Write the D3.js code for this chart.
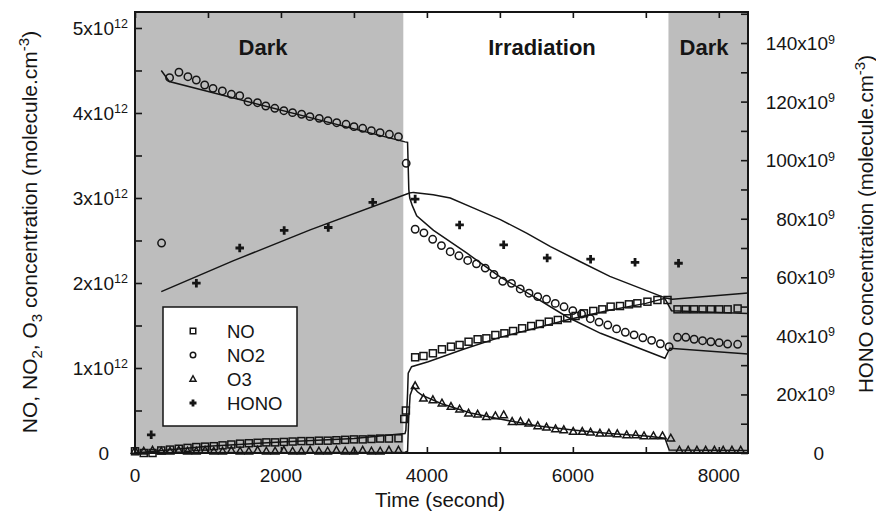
<!DOCTYPE html>
<html><head><meta charset="utf-8">
<script src="https://cdn.jsdelivr.net/npm/d3@7"></script>
<style>
html,body{margin:0;padding:0;background:#fff;}
svg text{font-family:"Liberation Sans",Arial,Helvetica,sans-serif;fill:#151515;}
</style></head>
<body>
<svg id="chart" width="876" height="513"></svg>
<script>
// ---------- data (time in s; NO/NO2/O3 in 1e12 molecule/cm3; HONO in 1e9 molecule/cm3) ----------
const phaseLabels = ["Dark", "Irradiation", "Dark"];
const phaseStarts = [0, 3680, 7310];
const phaseEnds   = [3680, 7310, 8400];
const phaseDark   = [true, false, true];

const xTicks = [0, 2000, 4000, 6000, 8000];
const xMinorTicks = [1000, 3000, 5000, 7000];
const leftTicks = [0, 1, 2, 3, 4, 5];
const leftMinorTicks = [0.5, 1.5, 2.5, 3.5, 4.5];
const rightTicks = [0, 20, 40, 60, 80, 100, 120, 140];
const rightMinorTicks = [10, 30, 50, 70, 90, 110, 130, 150];
const legendNames = ["NO", "NO2", "O3", "HONO"];

const noPoints = [
 [0,0.02],[120,0.0],[240,0.0],[360,0.03],[480,0.04],[600,0.05],[720,0.06],[840,0.07],[960,0.075],
 [1080,0.08],[1200,0.09],[1320,0.10],[1440,0.11],[1560,0.115],[1680,0.12],[1800,0.125],[1920,0.125],
 [2040,0.13],[2160,0.135],[2280,0.14],[2400,0.14],[2520,0.145],[2640,0.145],[2760,0.15],[2880,0.155],
 [3000,0.16],[3120,0.16],[3240,0.165],[3360,0.17],[3480,0.17],[3610,0.173],[3690,0.40],[3712,0.50],
 [3839,1.126],[3953,1.141],[4082,1.173],[4206,1.22],[4330,1.251],[4448,1.271],[4571,1.309],[4695,1.338],
 [4815,1.349],[4938,1.388],[5062,1.408],[5181,1.435],[5305,1.467],[5429,1.494],[5547,1.518],[5670,1.545],
 [5794,1.565],[5923,1.585],[6037,1.612],[6151,1.643],[6280,1.671],[6404,1.69],[6518,1.722],[6646,1.729],
 [6769,1.749],[6884,1.761],[7022,1.78],[7159,1.80],[7297,1.80],
 [7434,1.69],[7548,1.69],[7662,1.69],[7777,1.69],[7891,1.69],[8005,1.69],[8121,1.69],[8258,1.70]
];
const no2Points = [
 [364,2.47],[474,4.415],[602,4.479],[725,4.427],[840,4.388],[955,4.329],[1069,4.29],[1197,4.259],
 [1321,4.22],[1435,4.204],[1549,4.133],[1678,4.121],[1792,4.082],[1916,4.055],[2040,4.027],[2159,4.004],
 [2283,3.985],[2397,3.957],[2525,3.937],[2644,3.91],[2764,3.886],[2892,3.867],[3001,3.839],[3120,3.82],
 [3239,3.792],[3358,3.768],[3486,3.749],[3610,3.721],[3716,3.408],
 [3839,2.632],[3959,2.59],[4079,2.514],[4199,2.44],[4319,2.368],[4439,2.32],[4559,2.265],[4679,2.225],
 [4799,2.175],[4919,2.10],[5039,2.02],[5159,1.996],[5279,1.93],[5399,1.88],[5519,1.84],[5639,1.808],
 [5759,1.76],[5879,1.72],[5999,1.675],[6119,1.635],[6239,1.58],[6359,1.54],[6479,1.505],[6599,1.46],
 [6719,1.42],[6839,1.39],[6959,1.355],[7079,1.325],[7199,1.285],[7319,1.25],
 [7434,1.361],[7548,1.361],[7662,1.338],[7777,1.321],[7891,1.309],[8005,1.298],[8121,1.282],[8258,1.279]
];
const o3Points = [
 [0,0.03],[120,0.02],[240,0.03],[360,0.02],[480,0.02],[600,0.03],[720,0.02],[840,0.02],[960,0.03],
 [1080,0.02],[1200,0.02],[1320,0.03],[1440,0.02],[1560,0.02],[1680,0.03],[1800,0.02],[1920,0.02],
 [2040,0.03],[2160,0.02],[2280,0.02],[2400,0.03],[2520,0.02],[2640,0.02],[2760,0.03],[2880,0.02],
 [3000,0.02],[3120,0.03],[3240,0.02],[3360,0.02],[3480,0.03],[3610,0.03],
 [3839,0.79],[3953,0.643],[4082,0.624],[4206,0.585],[4330,0.545],[4448,0.514],[4571,0.467],[4695,0.455],
 [4815,0.427],[4938,0.435],[5052,0.447],[5168,0.368],[5282,0.368],[5396,0.349],[5519,0.318],[5639,0.302],
 [5762,0.282],[5876,0.271],[6005,0.251],[6129,0.251],[6243,0.243],[6371,0.231],[6494,0.231],[6609,0.224],
 [6737,0.212],[6861,0.212],[6975,0.20],[7104,0.20],[7228,0.20],[7342,0.173],
 [7460,0.03],[7580,0.03],[7700,0.03],[7820,0.03],[7940,0.03],[8060,0.03],[8180,0.03],[8300,0.03]
];
const honoPoints = [
 [222,6.2],[841,58.0],[1435,70.0],[2044,76.0],[2648,77.0],[3258,85.6],[3839,86.7],
 [4448,77.9],[5052,71.1],[5648,66.6],[6243,66.2],[6852,65.1],[7448,64.8]
];

const noModel = [
 [0,0.0],[1000,0.08],[2000,0.13],[3000,0.17],[3700,0.23],[3712,0.27],[3735,0.70],[3744,0.94],
 [3790,1.015],[4018,1.074],[4500,1.22],[5000,1.36],[5500,1.47],[5913,1.565],[6500,1.68],[7000,1.76],
 [7260,1.82],[7352,1.674],[8400,1.64]
];
const no2Model = [
 [360,4.50],[470,4.37],[3700,3.66],[3735,3.655],[3752,3.10],[3765,3.00],[3800,2.91],[3860,2.79],
 [4091,2.62],[4549,2.35],[5007,2.07],[5464,1.84],[5923,1.60],[6380,1.408],[7262,1.114],[7329,1.232],
 [8400,1.165]
];
const o3Model = [
 [0,0.0],[3700,0.01],[3735,0.02],[3750,0.40],[3770,0.68],[3812,0.78],[3870,0.72],[3931,0.68],
 [4200,0.58],[4600,0.47],[5000,0.40],[5500,0.32],[6000,0.27],[6500,0.23],[7000,0.20],[7262,0.173],
 [7320,0.035],[8400,0.03]
];
const honoModel = [
 [360,55.1],[1343,65.6],[2400,76.2],[3761,88.8],[3816,89.0],[4086,88.2],[4320,87.1],[4634,83.7],[5007,79.7],
 [5366,75.1],[5694,70.5],[6096,65.4],[6507,60.3],[7273,52.9],[7365,52.5],[8400,54.6]
];

// ---------- layout ----------
const svg = d3.select("#chart");
const L = 135, R = 748, T = 12, B = 453;
const x = d3.scaleLinear().domain([0, 8400]).range([L, R]);
const yL = d3.scaleLinear().domain([0, 5.188]).range([B, T]);
const yR = d3.scaleLinear().domain([0, 150.6]).range([B, T]);
const ink = "#151515";

svg.append("defs").append("clipPath").attr("id","clip")
  .append("rect").attr("x",L).attr("y",T).attr("width",R-L).attr("height",B-T);

// phases
svg.append("g").selectAll("rect").data(phaseStarts.map((s,i)=>({s, e:phaseEnds[i], dark:phaseDark[i]})))
  .join("rect")
  .attr("x", d=>x(d.s)).attr("y",T).attr("width", d=>x(d.e)-x(d.s)).attr("height",B-T)
  .attr("fill", d=>d.dark ? "#bdbdbd" : "#ffffff");

svg.append("g").selectAll("text").data(phaseLabels).join("text")
  .attr("x",(d,i)=> i===0 ? 263 : (i===1 ? 542 : 704))
  .attr("y",55).attr("text-anchor","middle")
  .style("font-weight","bold").style("font-size","22px").text(d=>d);

// model lines
const plot = svg.append("g").attr("clip-path","url(#clip)");
const lineL = d3.line().x(d=>x(d[0])).y(d=>yL(d[1]));
const lineR = d3.line().x(d=>x(d[0])).y(d=>yR(d[1]));
[noModel, no2Model, o3Model].forEach(m=>{
  plot.append("path").datum(m).attr("d", lineL).attr("fill","none").attr("stroke",ink).attr("stroke-width",1.5);
});
plot.append("path").datum(honoModel).attr("d", lineR).attr("fill","none").attr("stroke",ink).attr("stroke-width",1.5);

// symbols
function sym(g, type, cx, cy, s){
  if(type==="NO") g.append("rect").attr("x",cx-s/2).attr("y",cy-s/2).attr("width",s).attr("height",s)
      .attr("fill","none").attr("stroke",ink).attr("stroke-width",1.5);
  else if(type==="NO2") g.append("circle").attr("cx",cx).attr("cy",cy).attr("r",s/2)
      .attr("fill","none").attr("stroke",ink).attr("stroke-width",1.5);
  else if(type==="O3") { const h=s*0.9; g.append("path")
      .attr("d",`M${cx},${cy-h*0.6}L${cx+s/2},${cy+h*0.4}L${cx-s/2},${cy+h*0.4}Z`)
      .attr("fill","none").attr("stroke",ink).attr("stroke-width",1.5); }
  else { g.append("path").attr("d",`M${cx-s/2},${cy}H${cx+s/2}M${cx},${cy-s/2}V${cy+s/2}`)
      .attr("stroke",ink).attr("stroke-width",2.8); }
}
const pts = svg.append("g");
noPoints.forEach(d=>sym(pts,"NO",x(d[0]),yL(d[1]),7));
no2Points.forEach(d=>sym(pts,"NO2",x(d[0]),yL(d[1]),7.4));
o3Points.forEach(d=>sym(pts,"O3",x(d[0]),yL(d[1]),7.5));
honoPoints.forEach(d=>sym(pts,"HONO",x(d[0]),yR(d[1]),8.5));

// axes (inward ticks)
function styleAxis(g){ g.select(".domain").remove(); g.selectAll("line").attr("stroke",ink).attr("stroke-width",1.6); g.selectAll("text").remove(); }
svg.append("g").attr("transform",`translate(0,${B})`).call(d3.axisBottom(x).tickValues(xTicks.concat(xMinorTicks)).tickSize(-6)).call(styleAxis);
svg.append("g").attr("transform",`translate(0,${T})`).call(d3.axisTop(x).tickValues(xTicks.concat(xMinorTicks)).tickSize(-6)).call(styleAxis);
svg.append("g").attr("transform",`translate(${L},0)`).call(d3.axisLeft(yL).tickValues(leftTicks.concat(leftMinorTicks)).tickSize(-7)).call(styleAxis);
svg.append("g").attr("transform",`translate(${R},0)`).call(d3.axisRight(yR).tickValues(rightTicks.concat(rightMinorTicks).filter(v=>v<150.6)).tickSize(-7)).call(styleAxis);

// frame
svg.append("rect").attr("x",L).attr("y",T).attr("width",R-L).attr("height",B-T)
  .attr("fill","none").attr("stroke",ink).attr("stroke-width",2);

// tick labels
svg.append("g").selectAll("text").data(xTicks).join("text")
  .attr("x",d=>x(d)).attr("y",482).attr("text-anchor","middle").style("font-size","19px").text(d=>d);

const lt = svg.append("g");
leftTicks.forEach(v=>{
  const yy = yL(v);
  if(v===0){ lt.append("text").attr("x",109).attr("y",yy+7).attr("text-anchor","end").style("font-size","19px").text("0"); return; }
  lt.append("text").attr("x",114).attr("y",yy+7).attr("text-anchor","end").style("font-size","19px").text(v+"x10");
  lt.append("text").attr("x",114).attr("y",yy+0.5).attr("text-anchor","start").style("font-size","12.5px").text("12");
});
const rt = svg.append("g");
rightTicks.forEach(v=>{
  const yy = yR(v);
  if(v===0){ rt.append("text").attr("x",824).attr("y",yy+7).attr("text-anchor","end").style("font-size","19px").text("0"); return; }
  rt.append("text").attr("x",828).attr("y",yy+7).attr("text-anchor","end").style("font-size","19px").text(v+"x10");
  rt.append("text").attr("x",828).attr("y",yy+0.5).attr("text-anchor","start").style("font-size","12.5px").text("9");
});

// axis titles
svg.append("text").attr("x",440).attr("y",507).attr("text-anchor","middle").style("font-size","20.5px").text("Time (second)");

const lt1 = svg.append("text").attr("transform","translate(37,232) rotate(-90)").attr("text-anchor","middle").style("font-size","21px");
lt1.append("tspan").text("NO, NO");
lt1.append("tspan").attr("dy",5).style("font-size","15px").text("2");
lt1.append("tspan").attr("dy",-5).text(", O");
lt1.append("tspan").attr("dy",5).style("font-size","15px").text("3");
lt1.append("tspan").attr("dy",-5).text(" concentration (molecule.cm");
lt1.append("tspan").attr("dy",-8).style("font-size","15px").text("-3");
lt1.append("tspan").attr("dy",8).text(")");

const rt1 = svg.append("text").attr("transform","translate(873,224) rotate(-90)").attr("text-anchor","middle").style("font-size","20.5px");
rt1.append("tspan").text("HONO concentration (molecule.cm");
rt1.append("tspan").attr("dy",-8).style("font-size","15px").text("-3");
rt1.append("tspan").attr("dy",8).text(")");

// legend
const lg = svg.append("g");
lg.append("rect").attr("x",163).attr("y",307).attr("width",134).attr("height",119)
  .attr("fill","#fff").attr("stroke",ink).attr("stroke-width",1.5);
const legendY = [331, 355, 379, 403];
legendNames.forEach((n,i)=>{
  sym(lg, n, 193, legendY[i], n==="HONO" ? 7 : (n==="O3" ? 6 : 5.5));
  lg.append("text").attr("x",227).attr("y",legendY[i]+6.5).style("font-size","18.5px").text(n);
});
</script>
</body></html>
